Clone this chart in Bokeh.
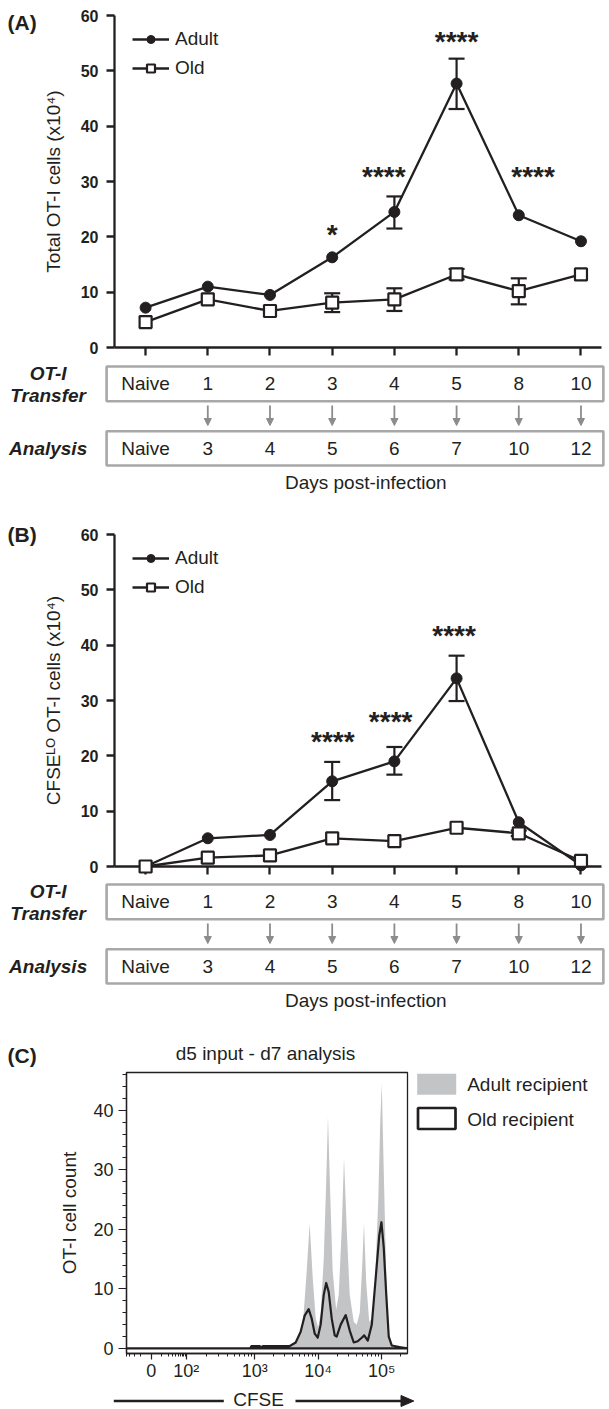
import math
from bokeh.plotting import figure
from bokeh.models import (Range1d, FixedTicker, SingleIntervalTicker, Legend, LegendItem,
                          Arrow, NormalHead, ColumnDataSource)
from bokeh.layouts import column
from bokeh.embed import file_html
from bokeh.resources import INLINE
from bokeh.core.properties import value

# ---------------- data ----------------
transfer_day = ["Naive", "1", "2", "3", "4", "5", "8", "10"]
analysis_day = ["Naive", "3", "4", "5", "6", "7", "10", "12"]

# (A) total OT-I cells (x10^4)
a_adult = [7.2, 11.0, 9.5, 16.3, 24.5, 47.7, 23.9, 19.2]
a_old = [4.6, 8.7, 6.6, 8.1, 8.7, 13.2, 10.2, 13.2]
a_adult_err_at = [4, 5]
a_adult_lo = [21.5, 43.1]
a_adult_hi = [27.3, 52.2]
a_old_err_at = [3, 4, 5, 6]
a_old_lo = [6.4, 6.6, 12.3, 7.8]
a_old_hi = [9.8, 10.7, 14.2, 12.5]
a_stars = ["*", "****", "****", "****"]
a_star_at = [3.0, 3.83, 5.0, 6.23]
a_star_y = [21.0, 31.5, 55.9, 31.5]

# (B) CFSE-lo OT-I cells (x10^4)
b_adult = [0.0, 5.1, 5.7, 15.4, 19.0, 34.0, 8.0, 0.2]
b_old = [0.0, 1.6, 2.0, 5.1, 4.6, 7.0, 6.0, 1.0]
b_adult_err_at = [3, 4, 5]
b_adult_lo = [12.0, 16.6, 29.9]
b_adult_hi = [18.9, 21.6, 38.1]
b_old_err_at = [6]
b_old_lo = [5.5]
b_old_hi = [6.5]
b_stars = ["****", "****", "****"]
b_star_at = [3.01, 3.94, 4.96]
b_star_y = [23.1, 26.7, 42.3]

# (C) CFSE histogram, x = display position in log10(CFSE) units
cfse_adult_x = [0.984, 2.93, 2.95, 3.08, 3.10, 3.13, 3.55, 3.62, 3.724, 3.772, 3.819, 3.866,
                3.913, 3.961, 4.0, 4.039, 4.087, 4.126, 4.154, 4.189, 4.228, 4.283, 4.323,
                4.37, 4.406, 4.449, 4.496, 4.559, 4.606, 4.654, 4.693, 4.72, 4.756, 4.803,
                4.843, 4.89, 4.945, 4.976, 5.0, 5.031, 5.071, 5.11, 5.157, 5.3, 5.405]
cfse_adult_n = [0, 0, 0.4, 0.4, 0.2, 0.4, 0.4, 0.8, 2.5, 6, 13, 21, 12, 5, 3.5, 6, 15, 28, 39,
                26, 13, 6.5, 9, 20, 32, 20, 9, 4.5, 4, 6, 14, 21, 11, 4.5, 5, 10, 25, 38, 44.5,
                30, 12, 2.5, 0.5, 0, 0]
cfse_old_x = [0.984, 2.93, 2.95, 3.08, 3.10, 3.13, 3.55, 3.567, 3.646, 3.724, 3.787, 3.85,
              3.898, 3.945, 3.992, 4.039, 4.087, 4.126, 4.165, 4.213, 4.26, 4.291, 4.354,
              4.433, 4.496, 4.559, 4.622, 4.685, 4.724, 4.78, 4.843, 4.906, 4.961, 4.995,
              5.031, 5.071, 5.11, 5.157, 5.299, 5.405]
cfse_old_n = [0, 0, 0.4, 0.4, 0.2, 0.4, 0.4, 0.5, 1.0, 2.8, 5.5, 6.6, 5.0, 2.5, 1.8, 4.0, 9.0,
              11.0, 9.5, 5.0, 2.2, 2.0, 4.0, 5.6, 3.0, 1.0, 1.2, 1.8, 2.2, 1.3, 4.0, 12.0, 19.0,
              21.2, 17.0, 9.0, 2.0, 0.5, 0.2, 0]
cfse_tick_pos = [1.373, 1.924, 3, 4, 5]
cfse_tick_lab = ["0", "10\u00b2", "10\u00b3", "10\u2074", "10\u2075"]
legend_c = ["Adult recipient", "Old recipient"]

# ---------------- style ----------------
FONT = "Liberation Sans"
INK = "#231f20"
BOXGRAY = "#a8a8a8"
ARROWGRAY = "#8c8c8c"
HISTGRAY = "#c3c4c6"
W = 609
LV = "overlay"   # unclipped drawing level


def txt(p, x, y, s, size, style="normal", align="center", baseline="middle", **kw):
    return p.text(x=x, y=y, text=s, text_font=value(FONT), text_font_size=size,
                  text_font_style=style, text_color=INK, text_align=align,
                  text_baseline=baseline, level=LV, **kw)


def main_panel(adult, old, a_at, a_lo, a_hi, o_at, o_lo, o_hi, st_txt, st_x, st_y,
               ylabel, tag, tag_y, height, top, bottom, xr):
    p = figure(width=W, height=height, x_range=xr, y_range=Range1d(0, 60),
               output_backend="svg", toolbar_location=None, frame_align=False,
               min_border_left=114, min_border_right=8, min_border_top=top,
               min_border_bottom=bottom, outline_line_color=None)
    p.grid.visible = False
    ticks = list(range(len(transfer_day)))
    p.xaxis.ticker = FixedTicker(ticks=ticks)
    p.xaxis.major_label_overrides = {t: "" for t in ticks}
    p.xaxis.major_label_standoff = 0
    p.yaxis.ticker = FixedTicker(ticks=[0, 10, 20, 30, 40, 50, 60])
    for ax in (p.xaxis, p.yaxis):
        ax.axis_line_width = 2.3
        ax.axis_line_color = INK
        ax.major_tick_line_width = 2.3
        ax.major_tick_line_color = INK
        ax.major_tick_out = 8
        ax.major_tick_in = 0
        ax.minor_tick_line_color = None
    p.yaxis.major_label_text_font = FONT
    p.yaxis.major_label_text_font_size = "16px"
    p.yaxis.major_label_text_font_style = "bold"
    p.yaxis.major_label_text_color = INK
    p.yaxis.major_label_standoff = 8
    p.yaxis.axis_label = ylabel
    p.yaxis.axis_label_text_font = FONT
    p.yaxis.axis_label_text_font_size = "19px"
    p.yaxis.axis_label_text_font_style = "normal"
    p.yaxis.axis_label_text_color = INK
    p.yaxis.axis_label_standoff = 14

    idx = list(range(len(adult)))
    l_ad = p.line(idx, adult, line_color=INK, line_width=2.3, level=LV)
    l_old = p.line(idx, old, line_color=INK, line_width=2.3, level=LV)
    for at, lo, hi in ((a_at, a_lo, a_hi), (o_at, o_lo, o_hi)):
        if at:
            p.segment(x0=at, y0=lo, x1=at, y1=hi, line_color=INK, line_width=2.2, level=LV)
            p.scatter(at + at, lo + hi, marker="dash", size=16, line_color=INK,
                      line_width=2.2, level=LV)
    m_ad = p.scatter(idx, adult, marker="circle", size=11, fill_color=INK,
                     line_color=INK, level=LV)
    m_old = p.scatter(idx, old, marker="square", size=12, fill_color="white",
                      line_color=INK, line_width=2.2, level=LV)
    txt(p, st_x, st_y, st_txt, "28px", "bold", baseline="alphabetic", y_offset=3)

    leg = Legend(items=[LegendItem(label="Adult", renderers=[l_ad, m_ad]),
                        LegendItem(label="Old", renderers=[l_old, m_old])],
                 location=(18, 268), glyph_width=37, glyph_height=20, label_height=20,
                 spacing=7, padding=0, margin=0, label_standoff=6,
                 border_line_color=None, background_fill_alpha=0,
                 label_text_font=FONT, label_text_font_size="19px", label_text_color=INK)
    p.add_layout(leg)
    txt(p, [xr.start - 107 / 62.2], [tag_y], [tag], "21px", "bold", align="left")
    return p


def table_panel(xr, height):
    t = figure(width=W, height=height, x_range=xr, y_range=Range1d(height, 0),
               output_backend="svg", toolbar_location=None, frame_align=False,
               x_axis_location=None, y_axis_location=None,
               min_border_left=114, min_border_right=8, min_border_top=0,
               min_border_bottom=0, outline_line_color=None)
    t.grid.visible = False
    box_l, box_r = -0.627, 7.36
    t.quad(left=[box_l, box_l], right=[box_r, box_r], top=[7, 71.7], bottom=[41.7, 106],
           fill_color=None, line_color=BOXGRAY, line_width=2.6, level=LV)
    idx = list(range(len(transfer_day)))
    txt(t, idx, [24.3] * len(idx), transfer_day, "19px")
    txt(t, idx, [89] * len(idx), analysis_day, "19px")
    txt(t, [-1.567, -1.567, -1.567], [14, 36, 89], ["OT-I", "Transfer", "Analysis"],
        "19px", "bold italic")
    txt(t, [3.54], [123], ["Days post-infection"], "19px")
    src = ColumnDataSource(dict(x=idx[1:], y0=[46] * (len(idx) - 1), y1=[66] * (len(idx) - 1)))
    t.add_layout(Arrow(source=src, x_start="x", y_start="y0", x_end="x", y_end="y1",
                       line_color=ARROWGRAY, line_width=1.8,
                       end=NormalHead(size=7, fill_color=ARROWGRAY, line_color=ARROWGRAY)))
    return t


xr_a = Range1d(-0.5, 7.33)
xr_b = Range1d(-0.5, 7.33)

pa = main_panel(a_adult, a_old, a_adult_err_at, a_adult_lo, a_adult_hi,
                a_old_err_at, a_old_lo, a_old_hi, a_stars, a_star_at, a_star_y,
                "Total OT-I cells (x10\u2074)", "(A)", 58.7, 359, 15, 12, xr_a)
ta = table_panel(xr_a, 160)
pb = main_panel(b_adult, b_old, b_adult_err_at, b_adult_lo, b_adult_hi,
                b_old_err_at, b_old_lo, b_old_hi, b_stars, b_star_at, b_star_y,
                "CFSE\u1d38\u1d3c OT-I cells (x10\u2074)", "(B)", 60.0, 358, 15, 11, xr_b)
tb = table_panel(xr_b, 158)

# ---------------- (C) ----------------
C_LEFT, C_RIGHT, C_TOP, C_BOTTOM, C_H = 126, 202, 37, 56, 374
X0, X1, Y0, Y1 = 0.984, 5.405, -0.85, 46.35
c = figure(width=W, height=C_H, x_range=Range1d(X0, X1), y_range=Range1d(Y0, Y1),
           output_backend="svg", toolbar_location=None, frame_align=False,
           min_border_left=C_LEFT, min_border_right=C_RIGHT, min_border_top=C_TOP,
           min_border_bottom=C_BOTTOM, outline_line_color=INK, outline_line_width=1.3)
c.grid.visible = False
ppd = (W - C_LEFT - C_RIGHT) / (X1 - X0)   # px per x unit
ppc = (C_H - C_TOP - C_BOTTOM) / (Y1 - Y0)  # px per count
FB = C_H - C_BOTTOM                        # frame bottom, px from figure top


def cx(px):  # horizontal canvas px -> x units (for decorations)
    return X0 + (px - C_LEFT) / ppd


def cy(py):  # vertical px below figure top -> count units (for decorations)
    return Y0 + (FB - py) / ppc


minor = []
for k in range(1, 10):
    frac = math.asinh(k) / math.asinh(10)
    minor += [1.373 + frac * (1.924 - 1.373), 1.373 - frac * (1.924 - 1.373)]
for k in range(2, 10):
    minor.append(1.924 + math.log10(k) * (3 - 1.924))
    minor.append(3 + math.log10(k))
    minor.append(4 + math.log10(k))
minor.append(5 + math.log10(2))
minor = [m for m in minor if X0 < m < X1]

c.xaxis.ticker = FixedTicker(ticks=cfse_tick_pos, minor_ticks=minor)
c.xaxis.major_label_overrides = dict(zip(cfse_tick_pos, cfse_tick_lab))
c.yaxis.ticker = SingleIntervalTicker(interval=10, num_minor_ticks=5)
for ax in (c.xaxis, c.yaxis):
    ax.axis_line_width = 1.3
    ax.axis_line_color = INK
    ax.major_tick_line_color = INK
    ax.minor_tick_line_color = INK
    ax.major_tick_line_width = 1.2
    ax.minor_tick_line_width = 1.0
    ax.major_tick_in = 0
    ax.minor_tick_in = 0
    ax.major_label_text_font = FONT
    ax.major_label_text_font_size = "18px"
    ax.major_label_text_color = INK
    ax.axis_label_text_font = FONT
    ax.axis_label_text_font_size = "19px"
    ax.axis_label_text_font_style = "normal"
    ax.axis_label_text_color = INK
c.yaxis.major_tick_out = 8
c.yaxis.minor_tick_out = 4
c.yaxis.major_label_standoff = 5
c.yaxis.axis_label = "OT-I cell count"
c.yaxis.axis_label_standoff = 10
c.xaxis.major_tick_out = 6
c.xaxis.minor_tick_out = 3
c.xaxis.major_label_standoff = 1

c.varea(x=cfse_adult_x, y1=0, y2=cfse_adult_n, fill_color=HISTGRAY)
c.patch(cfse_old_x, cfse_old_n, fill_color=None, line_color=INK, line_width=2.2,
        line_join="round")

# legend (drawn beside the frame)
c.quad(left=[cx(416.7)], right=[cx(455.7)], top=[cy(38.3)], bottom=[cy(59.3)],
       fill_color=HISTGRAY, line_color=None, level=LV)
c.quad(left=[cx(417.5)], right=[cx(455)], top=[cy(72.5)], bottom=[cy(93.5)],
       fill_color=None, line_color=INK, line_width=2.7, level=LV)
txt(c, [cx(466.7)] * 2, [cy(48.5), cy(84.3)], legend_c, "19px", align="left")

# panel tag, title and the CFSE arrow
txt(c, [cx(7)], [cy(20)], ["(C)"], "21px", "bold", align="left")
txt(c, [cx(265)], [cy(18.3)], ["d5 input - d7 analysis"], "19px")
ay = 365.5
txt(c, [cx(258)], [cy(ay - 2)], ["CFSE"], "19px")
c.segment(x0=[cx(113.3), cx(295)], y0=[cy(ay), cy(ay)], x1=[cx(223.3), cx(404)],
          y1=[cy(ay), cy(ay)], line_color=INK, line_width=2.3, level=LV)
c.patch(x=[cx(400.5), cx(413.3), cx(400.5)], y=[cy(ay - 5.5), cy(ay), cy(ay + 5.5)],
        fill_color=INK, line_color=INK, line_width=1, level=LV)

layout = column(pa, ta, pb, tb, c, spacing=0)
open("out.html", "w").write(file_html(layout, INLINE))
